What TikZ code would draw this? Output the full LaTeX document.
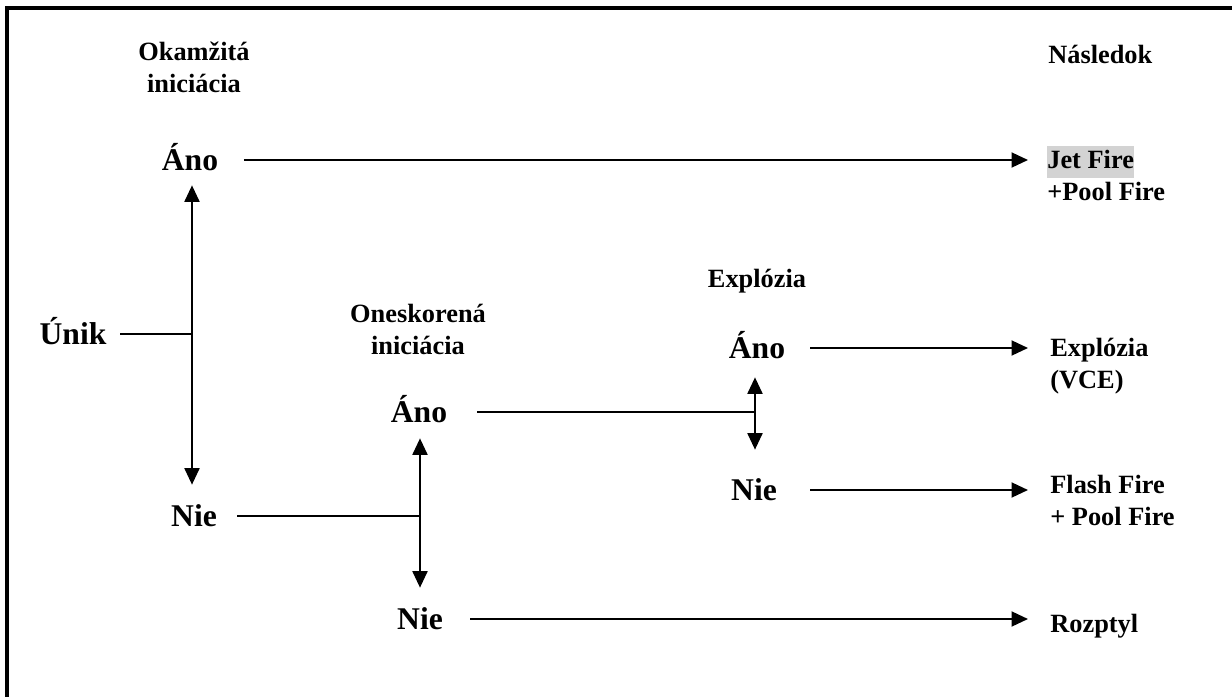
\documentclass[tikz,border=0pt]{standalone}
\usepackage{fontspec}
\setmainfont{Liberation Serif}
\usetikzlibrary{arrows.meta}
\definecolor{hilite}{RGB}{211,211,211}
\setlength{\fboxsep}{0pt}
\tikzstyle{big}=[inner sep=0pt, font=\fontsize{18}{21.6}\selectfont\bfseries, text height=0.4cm, text depth=0pt]
\tikzstyle{small}=[inner sep=0pt, font=\fontsize{15}{18}\selectfont\bfseries, align=center]
\tikzstyle{result}=[inner sep=0pt, font=\fontsize{15}{18}\selectfont\bfseries, align=left]
\tikzstyle{edge}=[line width=1.1pt]
\tikzstyle{arrowedge}=[edge, -{Triangle[length=0.33cm, width=0.3cm]}]
\tikzstyle{frame}=[line width=0.08cm]

\begin{document}
\begin{tikzpicture}[x=0.02cm, y=-0.02cm]
            \useasboundingbox (0,0) rectangle (1232,697);
            \draw[frame] (7,697) -- (7,8) -- (1232,8);
            % column heads
            \node[small, anchor=north] (okam) at (194,38) {\strut Okamžitá\\iniciácia};
            \node[small, anchor=north] (onesk) at (418,300) {\strut Oneskorená\\iniciácia};
            \node[small, anchor=base] (explh) at (757,287) {Explózia};
            \node[small, anchor=base west] (nasl) at (1048,63) {Následok};
            % branches
            \node[big] (unik) at (73,334) {Únik};
            \node[big] (ano1) at (190,160) {Áno};
            \node[big] (nie1) at (194,516) {Nie};
            \node[big] (ano2) at (419,412) {Áno};
            \node[big] (nie2) at (420,619) {Nie};
            \node[big] (ano3) at (757,348) {Áno};
            \node[big] (nie3) at (754,490) {Nie};
            \coordinate (j1) at (192,334);
            \coordinate (j2) at (420,516);
            \coordinate (j3) at (755,412);
            % outcomes
            \node[result, anchor=north west] (jet) at (1047,146) {\colorbox{hilite}{\strut Jet Fire}\\+Pool Fire};
            \node[result, anchor=north west] (vce) at (1050,334) {\strut Explózia\\(VCE)};
            \node[result, anchor=north west] (flash) at (1050,471) {\strut Flash Fire\\+ Pool Fire};
            \node[result, anchor=base west] (rozp) at (1050,632) {Rozptyl};
            \draw[edge, shorten <=0.27cm] (unik) -- (j1);
            \draw[arrowedge, shorten >=0.3cm] (j1) -- (j1 |- ano1.south);
            \draw[arrowedge, shorten >=0.42cm] (j1) -- (j1 |- nie1.north);
            \draw[arrowedge, shorten <=0.51cm, shorten >=0.38cm] (ano1) -- (ano1 -| jet.west);
            \draw[edge, shorten <=0.4cm] (nie1) -- (j2);
            \draw[arrowedge, shorten >=0.32cm] (j2) -- (j2 |- ano2.south);
            \draw[arrowedge, shorten >=0.42cm] (j2) -- (j2 |- nie2.north);
            \draw[edge, shorten <=0.6cm] (ano2) -- (j3);
            \draw[arrowedge, shorten <=0.54cm, shorten >=0.44cm] (nie2) -- (nie2 -| rozp.west);
            \draw[arrowedge, shorten >=0.38cm] (j3) -- (j3 |- ano3.south);
            \draw[arrowedge, shorten >=0.6cm] (j3) -- (j3 |- nie3.north);
            \draw[arrowedge, shorten <=0.5cm, shorten >=0.44cm] (ano3) -- (ano3 -| vce.west);
            \draw[arrowedge, shorten <=0.66cm, shorten >=0.44cm] (nie3) -- (nie3 -| flash.west);
\end{tikzpicture}
\end{document}
